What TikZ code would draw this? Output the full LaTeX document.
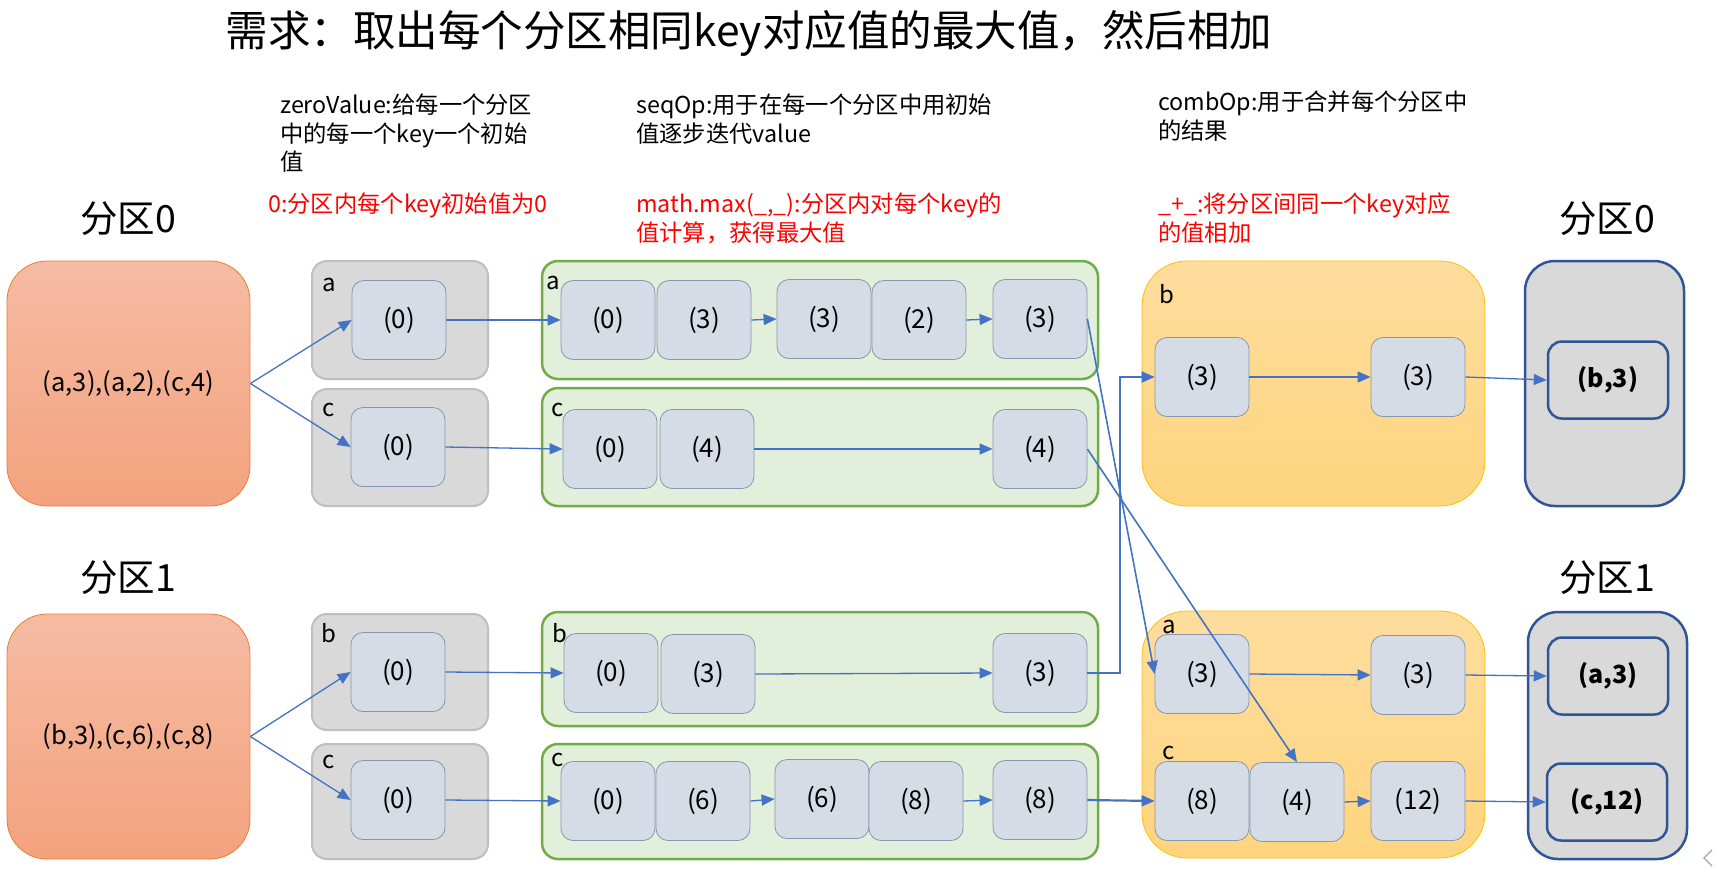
\documentclass[tikz,border=0pt]{standalone}
\usepackage{fontspec}
\setmainfont{Noto Sans CJK SC}
\usetikzlibrary{arrows.meta,shadings}
\definecolor{arrowblue}{HTML}{4472C4}
\definecolor{innerfill}{HTML}{D6DCE5}
\definecolor{innerdraw}{HTML}{8497B0}
\definecolor{grayfill}{HTML}{D9D9D9}
\definecolor{graydraw}{HTML}{BFBFBF}
\definecolor{greenfill}{HTML}{E2EFDA}
\definecolor{greendraw}{HTML}{70AD47}
\definecolor{orangetop}{HTML}{F5BCA3}
\definecolor{orangebot}{HTML}{F4A27E}
\definecolor{orangedraw}{HTML}{ED7D31}
\definecolor{yellowtop}{HTML}{FEDD9D}
\definecolor{yellowbot}{HTML}{FED47E}
\definecolor{yellowdraw}{HTML}{FFC000}
\definecolor{darkblue}{HTML}{2F5597}
\tikzset{
  arr/.style={draw=arrowblue, line width=1.3pt, -{Triangle[length=13pt,width=11pt]}},
  arrthick/.style={arr, line width=2.2pt},
  val/.style={rectangle, rounded corners=12pt, fill=innerfill, draw=innerdraw, line width=0.8pt,
    minimum width=94pt, minimum height=79pt, inner sep=0pt, font=\fontsize{26}{30}\selectfont},
  res/.style={rectangle, rounded corners=14pt, fill=grayfill, draw=darkblue, line width=2.5pt,
    minimum width=120pt, minimum height=77pt, inner sep=0pt, font=\fontsize{25}{30}\selectfont\bfseries},
  srcbox/.style={rectangle, rounded corners=40pt, top color=orangetop, bottom color=orangebot,
    draw=orangedraw, line width=0.8pt, minimum width=243pt, minimum height=245pt, inner sep=0pt,
    font=\fontsize{25.5}{30}\selectfont},
  graybox/.style={fill=grayfill, draw=graydraw, line width=2pt, rounded corners=15pt},
  greenbox/.style={fill=greenfill, draw=greendraw, line width=2.5pt, rounded corners=16pt},
  yellowbox/.style={top color=yellowtop, bottom color=yellowbot, draw=yellowdraw, line width=0.8pt, rounded corners=45pt},
  resbox/.style={fill=grayfill, draw=darkblue, line width=2.5pt, rounded corners=30pt},
  key/.style={inner sep=0pt, font=\fontsize{24}{28}\selectfont},
  part/.style={inner sep=0pt, font=\fontsize{37.5}{44}\selectfont},
  note/.style={inner sep=0pt, anchor=north west, align=left, font=\fontsize{23.3}{28.5}\selectfont},
  rednote/.style={note, text=red}
}
\begin{document}
\begin{tikzpicture}[x=1pt,y=-1pt]
\useasboundingbox (0,0) rectangle (1718,868);
\fill[white] (0,0) rectangle (1718,868);

% title
\node[inner sep=0pt, font=\fontsize{42.5}{50}\selectfont] (title) at (749,33) {需求：取出每个分区相同key对应值的最大值，然后相加};

% notes
\node[note] (n1) at (280,94) {zeroValue:给每一个分区\\中的每一个key一个初始\\值};
\node[note] (n2) at (636,94) {seqOp:用于在每一个分区中用初始\\值逐步迭代value};
\node[note] (n3) at (1158,91) {combOp:用于合并每个分区中\\的结果};
\node[rednote] (r1) at (268,193) {0:分区内每个key初始值为0};
\node[rednote] (r2) at (636,193) {math.max(\_,\_):分区内对每个key的\\值计算，获得最大值};
\node[rednote] (r3) at (1158,193) {\_+\_:将分区间同一个key对应\\的值相加};

% partition labels
\node[part] (p0l) at (128,219) {分区0};
\node[part] (p1l) at (128,578) {分区1};
\node[part] (p0r) at (1607,219) {分区0};
\node[part] (p1r) at (1607,578) {分区1};

% source boxes
\node[srcbox] (src0) at (128.5,383.5) {(a,3),(a,2),(c,4)};
\node[srcbox] (src1) at (128.5,736.5) {(b,3),(c,6),(c,8)};

% gray zero boxes
\path[graybox] (312,261) rectangle (488,379);
\path[graybox] (312,389) rectangle (488,506);
\path[graybox] (312,614) rectangle (488,730);
\path[graybox] (312,744) rectangle (488,859);
\node[key] (ka0) at (329,285) {a};
\node[key] (kc0) at (329,410) {c};
\node[key] (kb1) at (329,633) {b};
\node[key] (kc1) at (329,762) {c};
\node[val] (z0a) at (399,320) {(0)};
\node[val] (z0c) at (398,447) {(0)};
\node[val] (z1b) at (398,672) {(0)};
\node[val] (z1c) at (398,800) {(0)};

% green boxes
\path[greenbox] (542,261) rectangle (1098,379);
\path[greenbox] (542,388) rectangle (1098,506);
\path[greenbox] (542,612) rectangle (1098,726);
\path[greenbox] (542,744) rectangle (1098,859);
\node[val] (ga1) at (608,320) {(0)};
\node[val] (ga2) at (704,320) {(3)};
\node[val] (ga3) at (824,319) {(3)};
\node[val] (ga4) at (919,320) {(2)};
\node[val] (ga5) at (1040,319) {(3)};
\node[val] (gc1) at (610,449) {(0)};
\node[val] (gc2) at (707,449) {(4)};
\node[val] (gc3) at (1040,449) {(4)};
\node[val] (gb1) at (611,673) {(0)};
\node[val] (gb2) at (708,674) {(3)};
\node[val] (gb3) at (1040,673) {(3)};
\node[val] (gd1) at (608,801) {(0)};
\node[val] (gd2) at (703,801) {(6)};
\node[val] (gd3) at (822,799) {(6)};
\node[val] (gd4) at (916,801) {(8)};
\node[val] (gd5) at (1040,800) {(8)};
\node[key] (ka0g) at (553,283) {a};
\node[key] (kc0g) at (558,410) {c};
\node[key] (kb1g) at (560,633) {b};
\node[key] (kc1g) at (558,760) {c};

% yellow boxes
\path[yellowbox] (1142,261) rectangle (1485,506);
\path[yellowbox] (1142,611) rectangle (1485,858);
\node[key] (kby) at (1167,294) {b};
\node[key] (kay) at (1169,627) {a};
\node[key] (kcy) at (1169,753) {c};
\node[val] (yt1) at (1202,377) {(3)};
\node[val] (yt2) at (1418,377) {(3)};
\node[val] (ya1) at (1202,674) {(3)};
\node[val] (ya2) at (1418,675) {(3)};
\node[val] (yc1) at (1202,801) {(8)};
\node[val] (yc2) at (1297,802) {(4)};
\node[val] (yc3) at (1418,801) {(12)};

% result boxes
\path[resbox] (1525,261) rectangle (1684,506);
\path[resbox] (1528,612) rectangle (1687,859);
\node[res] (rb) at (1608,380) {(b,3)};
\node[res] (ra) at (1608,676) {(a,3)};
\node[res] (rc) at (1607,802) {(c,12)};

% connectors
\draw[arr] (src0.east) -- (z0a.west);
\draw[arr] (src0.east) -- (z0c.west);
\draw[arr] (src1.east) -- (z1b.west);
\draw[arr] (src1.east) -- (z1c.west);
\draw[arr] (z0a) -- (ga1);
\draw[arr] (z0c.east) -- (gc1.west);
\draw[arr] (z1b.east) -- (gb1.west);
\draw[arr] (z1c.east) -- (gd1.west);
\draw[arr] (ga2.east) -- (ga3.west);
\draw[arr] (ga4.east) -- (ga5.west);
\draw[arr] (gc2.east) -- (gc3.west);
\draw[arr] (gb2.east) -- (gb3.west);
\draw[arr] (gd2.east) -- (gd3.west);
\draw[arr] (gd4.east) -- (gd5.west);
\coordinate (elb) at (1120,0);
\draw[arrthick] (gb3.east) -- (gb3.east -| elb) -- (elb |- yt1.west) -- (yt1.west);
\draw[arr, line width=1.6pt] (ga5.east) -- (ya1.west);
\draw[arr, line width=1.6pt] (gc3.east) -- (yc2.north);
\draw[arrthick] (gd5.east) -- (yc1.west);
\draw[arr] (yt1) -- (yt2);
\draw[arr] (yt2.east) -- (rb.west);
\draw[arr] (ya1.east) -- (ya2.west);
\draw[arr] (ya2.east) -- (ra.west);
\draw[arr] (yc2.east) -- (yc3.west);
\draw[arr] (yc3.east) -- (rc.west);

% corner glyph
\draw[gray!70, line width=1.2pt] (1712,850) -- (1704,858) -- (1712,866);
\end{tikzpicture}
\end{document}
